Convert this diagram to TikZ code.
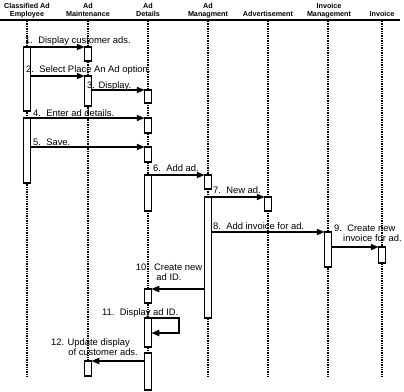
\documentclass[tikz,border=0pt]{standalone}
\usepackage{fontspec}
\setmainfont{Liberation Sans}
\usetikzlibrary{arrows.meta}
\newcommand\actbox[4]{\node[act,minimum height=#4pt] (#1) at (#2,#3) {};}
\begin{document}
\begin{tikzpicture}[x=1pt,y=-1pt,
  act/.style={draw,line width=1.2pt,fill=white,minimum width=6.5pt,inner sep=0pt,outer sep=0pt,anchor=north},
  life/.style={line width=1.1pt,dash pattern=on 1.3pt off 1.1pt},
  msg/.style={line width=1.8pt,-{Triangle[length=8pt,width=6pt]}},
  hdr/.style={font=\fontsize{7.2}{7.8}\selectfont\bfseries,align=center,inner sep=0pt,anchor=south,text depth=2pt},
  lbl/.style={font=\fontsize{9.4}{10.5}\selectfont,inner sep=0pt,anchor=base west},
  mlbl/.style={font=\fontsize{9.4}{10.5}\selectfont,inner sep=0pt,text depth=0pt}
]
\useasboundingbox (0,0) rectangle (404,391);
% header
\node[hdr] (hE) at (27,18.5) {Classified Ad\\Employee};
\node[hdr] (hM) at (88,18.5) {Ad\\Maintenance};
\node[hdr] (hD) at (148,18.5) {Ad\\Details};
\node[hdr] (hG) at (208,18.5) {Ad\\Managment};
\node[hdr] (hA) at (268,18.5) {Advertisement};
\node[hdr] (hI) at (329,18.5) {Invoice\\Management};
\node[hdr] (hV) at (382,18.5) {Invoice};
\coordinate (hl) at (0,19.5);
\coordinate (hr) at (400,19.5);
\draw[line width=2pt] (hl) -- (hr);
% lifelines
\foreach \n/\x in {E/27,M/88,D/148,G/208,A/268,I/328,V/382}{
  \coordinate (t\n) at (\x,21);
  \coordinate (b\n) at (\x,377);
  \draw[life] (t\n) -- (b\n);
}
% activation boxes
\actbox{e1}{27}{47}{64}
\actbox{m1}{88}{47}{14}
\actbox{m2}{88}{76}{30}
\actbox{d1}{148}{90}{13}
\actbox{e2}{27}{118}{65}
\actbox{d2}{148}{118}{15}
\actbox{d3}{148}{147}{15}
\actbox{d4}{148}{175}{36}
\actbox{g1}{208}{175}{14}
\actbox{g2}{208}{197}{121}
\actbox{a1}{268}{197}{14}
\actbox{i1}{328}{232}{35}
\actbox{v1}{382}{247}{16}
\actbox{d5}{148}{289}{14}
\actbox{d6}{148}{318}{29}
\actbox{d7}{148}{353}{37}
\actbox{m3}{88}{361}{15}
% messages
\draw[msg] (e1.north east) -- (m1.north west);
\draw[msg] (e1.east |- m2.north) -- (m2.north west);
\draw[msg] (m2.east |- d1.north) -- (d1.north west);
\draw[msg] (e2.north east) -- (d2.north west);
\draw[msg] (e2.east |- d3.north) -- (d3.north west);
\draw[msg] (d4.north east) -- (g1.north west);
\draw[msg] (g2.north east) -- (a1.north west);
\draw[msg] (g2.east |- i1.north) -- (i1.north west);
\draw[msg] (i1.east |- v1.north) -- (v1.north west);
\draw[msg] (g2.west |- d5.north) -- (d5.north east);
\coordinate (s11) at (179,333);
\draw[msg] (d6.north east) -| (s11) -- (d6.east |- s11);
\draw[msg] (d7.west |- m3.north) -- (m3.north east);
% labels
\node[lbl] (l1) at (25,43) {1.\ \ Display customer ads.};
\node[lbl] (l2) at (26,72.5) {2.\ \ Select Place An Ad option.};
\node[lbl] (l3) at (87,88) {3. Display.};
\node[lbl] (l4) at (33,116) {4.\ \ Enter ad details.};
\node[lbl] (l5) at (33,145) {5.\ \ Save.};
\node[lbl] (l6) at (153,171.5) {6.\ \ Add ad.};
\node[lbl] (l7) at (213,193.5) {7.\ \ New ad.};
\node[lbl] (l8) at (213,229) {8.\ \ Add invoice for ad.};
\node[mlbl,align=left,anchor=south west] (l9) at (334,242) {9.\ \ Create new\\\hspace*{9pt}invoice for ad.};
\node[mlbl,align=center,anchor=south] (l10) at (169,281) {10.\ \ Create new\\ad ID.};
\node[lbl] (l11) at (102,315) {11.\ \ Display ad ID.};
\node[mlbl,align=right,anchor=south east] (l12) at (138,356) {12. Update display\kern8pt\\of customer ads.};
\end{tikzpicture}
\end{document}
